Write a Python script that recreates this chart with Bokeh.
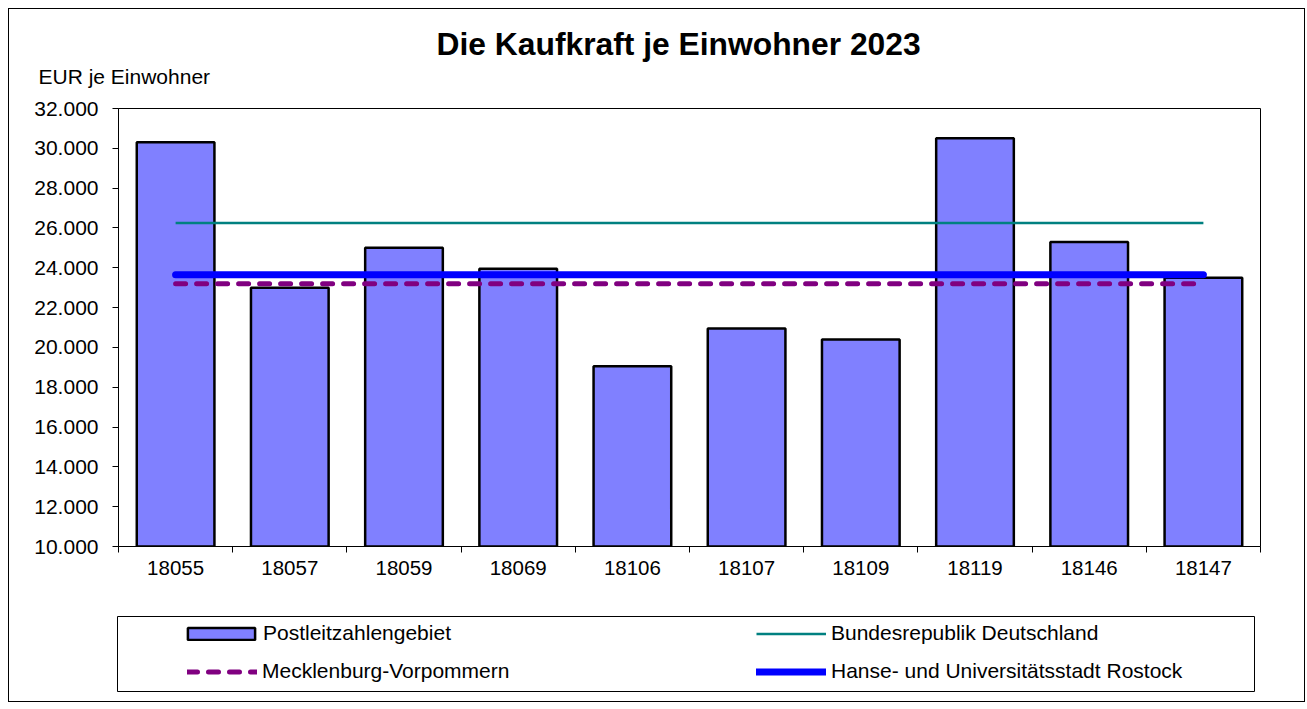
from bokeh.plotting import figure
from bokeh.models import (Range1d, FixedTicker, Title, Legend, LegendItem, ColumnDataSource)
from bokeh.layouts import column
from bokeh.embed import file_html
from bokeh.resources import INLINE

# ---- data ----
plz = ["18055", "18057", "18059", "18069", "18106", "18107", "18109", "18119", "18146", "18147"]
kaufkraft = [30300, 23000, 25000, 23950, 19050, 20950, 20400, 30500, 25300, 23500]
brd_value = 26250          # Bundesrepublik Deutschland
mv_value = 23200           # Mecklenburg-Vorpommern
rostock_value = 23650      # Hanse- und Universitätsstadt Rostock
y_ticks = list(range(10000, 32001, 2000))
title_text = "Die Kaufkraft je Einwohner 2023"
y_unit = "EUR je Einwohner"
series_names = ["Postleitzahlengebiet", "Bundesrepublik Deutschland",
                "Mecklenburg-Vorpommern", "Hanse- und Universitätsstadt Rostock"]

FONT = "Liberation Sans"
BAR_FILL = "#8080FF"

n = len(plz)
centers = [i + 0.5 for i in range(n)]
boundaries = list(range(n + 1))

W = 1295
PH = 600
QH = 92

p = figure(width=W, height=PH, output_backend="svg", toolbar_location=None,
           x_range=Range1d(0, n), y_range=Range1d(y_ticks[0], y_ticks[-1]),
           min_border_left=109, min_border_right=44, min_border_top=99, min_border_bottom=63,
           background_fill_color="white", border_fill_color="white")
p.grid.visible = False
p.outline_line_color = "black"
p.outline_line_width = 1
p.outline_line_alpha = 1

# main title (outermost) and the unit caption (next to the frame)
p.title.text = title_text
p.title.align = "left"
p.title.offset = 318
p.title.standoff = -38
p.title.text_font = FONT
p.title.text_font_size = "31.8px"
p.title.text_font_style = "bold"
p.title.text_color = "black"
p.add_layout(Title(text=y_unit, align="left", offset=-80, standoff=41,
                   text_font=FONT, text_font_size="21px", text_font_style="normal",
                   text_color="black"), "above")

src = ColumnDataSource(dict(x=centers, top=kaufkraft, plz=plz))
p.vbar(x="x", top="top", bottom=y_ticks[0], width=0.68, source=src,
       fill_color=BAR_FILL, line_color="black", line_width=2.5)

line_x = [centers[0], centers[-1]]
p.line(line_x, [brd_value, brd_value], line_color="#008080", line_width=2.5)
p.line(line_x, [mv_value, mv_value], line_color="#800080", line_width=5,
       line_dash="10 11", line_cap="round")
p.line(line_x, [rostock_value, rostock_value], line_color="#0000FF", line_width=7,
       line_cap="round")

# x axis: labels at centres, ticks at category boundaries
xa = p.xaxis[0]
xa.ticker = FixedTicker(ticks=centers, minor_ticks=boundaries)
xa.major_label_overrides = {c: lab for c, lab in zip(centers, plz)}
xa.major_tick_out = 0
xa.major_tick_in = 0
xa.minor_tick_out = 6
xa.minor_tick_in = 0
xa.minor_tick_line_color = "black"
xa.axis_line_color = "black"
xa.major_label_text_font = FONT
xa.major_label_text_font_size = "20.5px"
xa.major_label_text_color = "black"
xa.major_label_standoff = 8

ya = p.yaxis[0]
ya.ticker = FixedTicker(ticks=y_ticks, minor_ticks=[])
ya.major_label_overrides = {t: f"{t:,}".replace(",", ".") for t in y_ticks}
ya.major_tick_out = 6
ya.major_tick_in = 0
ya.major_tick_line_color = "black"
ya.axis_line_color = "black"
ya.major_label_text_font = FONT
ya.major_label_text_font_size = "21px"
ya.major_label_text_color = "black"
ya.major_label_standoff = 14

# ---- legend box (second figure) ----
q = figure(width=W, height=QH, output_backend="svg", toolbar_location=None,
           x_range=Range1d(0, 1), y_range=Range1d(0, 1),
           x_axis_location=None, y_axis_location=None,
           min_border_left=108, min_border_right=50, min_border_top=7, min_border_bottom=10,
           background_fill_color="white", border_fill_color="white")
q.title.visible = False
q.grid.visible = False
q.outline_line_color = "black"
q.outline_line_width = 1
q.outline_line_alpha = 1

# legend-only renderers: a single point placed outside the visible range
dummy = ColumnDataSource(dict(x=[-5], y=[-5], top=[-5]))
lb = q.vbar(x="x", top="top", width=0.1, source=dummy, fill_color=BAR_FILL,
            line_color="black", line_width=2.5)
l1 = q.line("x", "y", source=dummy, line_color="#008080", line_width=2.5)
l2 = q.line("x", "y", source=dummy, line_color="#800080", line_width=5,
            line_dash="10 11", line_cap="round")
l3 = q.line("x", "y", source=dummy, line_color="#0000FF", line_width=7, line_cap="round")


def mk_legend(name, rend, vx, vy, gw, gh, standoff):
    lg = Legend(items=[LegendItem(label=name, renderers=[rend])], location=(vx, vy),
                glyph_width=gw, glyph_height=gh, label_standoff=standoff,
                padding=0, margin=0, spacing=0,
                border_line_alpha=0, background_fill_alpha=0,
                label_text_font=FONT, label_text_font_size="21px", label_text_color="black")
    q.add_layout(lg, "center")


mk_legend(series_names[0], lb, 62, 46, 84, 15, -2)
mk_legend(series_names[1], l1, 639, 46, 70, 15, 5)
mk_legend(series_names[2], l2, 70, 8, 70, 15, 5)
mk_legend(series_names[3], l3, 639, 8, 70, 15, 5)

layout = column(p, column(q), styles={"border": "1px solid black", "background-color": "white",
                                      "margin-left": "8px", "margin-top": "8px"})

open("out.html", "w").write(file_html(layout, INLINE))
